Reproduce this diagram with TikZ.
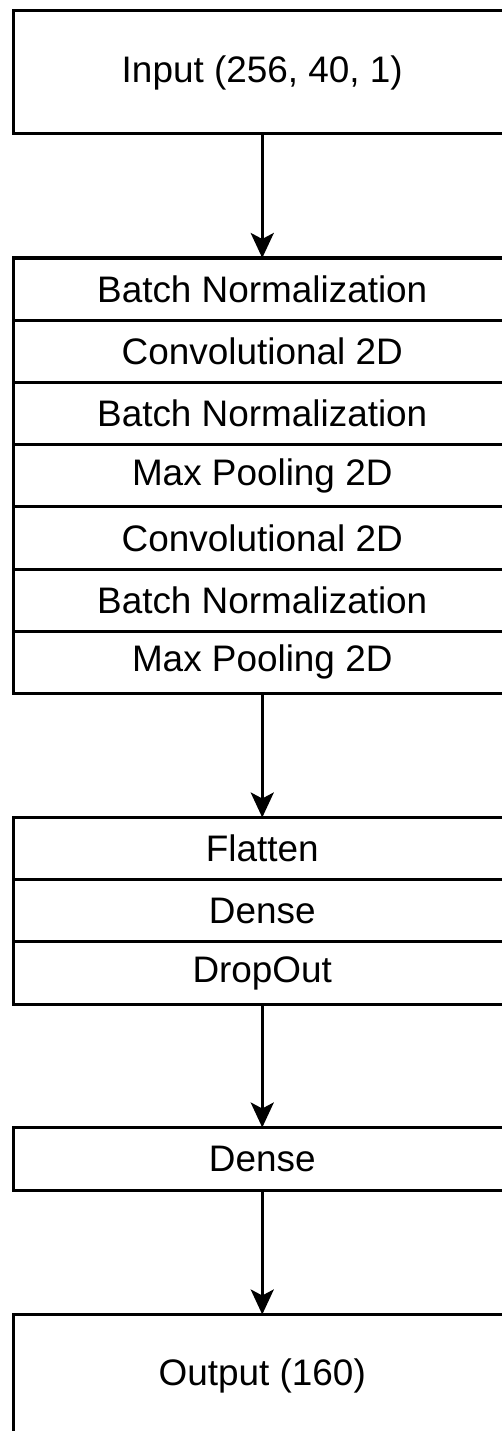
\documentclass[tikz,border=0pt]{standalone}
\usepackage{fontspec}
\setmainfont{Liberation Sans}
\usetikzlibrary{arrows.meta}
\begin{document}
\begin{tikzpicture}[x=1pt,y=1pt,
  layer/.style={draw, line width=3pt, minimum width=497.5pt, minimum height=62.2pt,
    inner sep=0pt, outer sep=0pt, anchor=north, font=\fontsize{36.9}{40}\selectfont},
  big/.style={layer, minimum height=123pt},
  flow/.style={line width=3.2pt, -{Stealth[length=25pt,width=23pt,inset=6pt]}}]
\clip (0,0) rectangle (502,-1431);
\useasboundingbox (0,0) rectangle (502,-1431);
\fill[white] (0,0) rectangle (502,-1431);
% input
\node[big] (in) at (262.25,-11) {Input (256, 40, 1)};
% stack 1
\node[layer] (a1) at (262.25,-258) {Batch Normalization};
\node[layer] (a2) at (a1.south) {Convolutional 2D};
\node[layer] (a3) at (a2.south) {Batch Normalization};
\node[layer] (a4) at (a3.south) {Max Pooling 2D};
\node[layer] (a5) at (a4.south) {Convolutional 2D};
\node[layer] (a6) at (a5.south) {Batch Normalization};
\node[layer] (a7) at (a6.south) {Max Pooling 2D};
% stack 2
\node[layer] (f1) at (262.25,-817.5) {Flatten};
\node[layer] (f2) at (f1.south) {Dense};
\node[layer] (f3) at (f2.south) {DropOut};
% dense
\node[layer, minimum height=62.5pt] (d1) at (262.25,-1127.5) {Dense};
% output
\node[big] (out) at (262.25,-1314.5) {Output (160)};
% connectors
\draw[flow] (in.south) -- (a1.north);
\draw[flow] (a7.south) -- (f1.north);
\draw[flow] (f3.south) -- (d1.north);
\draw[flow] (d1.south) -- (out.north);
\end{tikzpicture}
\end{document}
